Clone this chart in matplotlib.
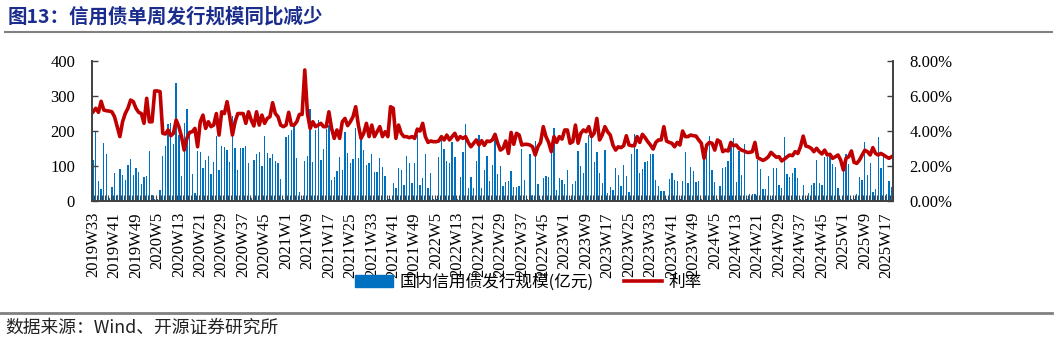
import numpy as np
import matplotlib
matplotlib.use('Agg')
import matplotlib.pyplot as plt
from matplotlib.lines import Line2D
from matplotlib.patches import Patch
from matplotlib.ticker import FuncFormatter

plt.rcParams['font.family'] = ['Liberation Serif', 'Noto Sans CJK SC']
CJK = ['Noto Sans CJK SC', 'DejaVu Sans']

# 周度：2019W33 起，每年按 52 周计
start_year, start_week, n_weeks = 2019, 33, 299
weeks = []
y, w = start_year, start_week
for _ in range(n_weeks):
    weeks.append(f'{y}W{w}')
    w += 1
    if w > 52:
        y, w = y + 1, 1

# 国内信用债发行规模（亿元）
issuance = [
    117, 200, 57, 34, 166, 134, 8, 40, 80, 17,
    92, 74, 60, 104, 120, 73, 94, 82, 50, 69,
    71, 143, 17, 6, 5, 31, 130, 158, 221, 224,
    163, 338, 188, 72, 224, 262, 188, 77, 23, 144,
    139, 94, 118, 128, 76, 112, 186, 89, 156, 155,
    145, 111, 243, 151, 90, 151, 151, 157, 109, 8,
    116, 134, 139, 100, 186, 138, 123, 135, 115, 108,
    63, 6, 184, 188, 203, 213, 123, 26, 6, 114,
    128, 263, 111, 203, 231, 116, 149, 207, 217, 61,
    69, 86, 127, 89, 196, 138, 109, 119, 210, 123,
    173, 145, 104, 110, 133, 84, 84, 124, 97, 71,
    6, 5, 51, 36, 94, 89, 46, 128, 109, 51,
    109, 188, 46, 66, 134, 37, 80, 5, 6, 127,
    174, 149, 113, 108, 168, 127, 7, 68, 139, 219,
    37, 69, 37, 114, 188, 36, 89, 130, 57, 103,
    176, 77, 100, 44, 53, 57, 87, 41, 40, 43,
    150, 60, 6, 134, 17, 171, 48, 6, 65, 71,
    69, 141, 208, 31, 66, 59, 48, 88, 6, 48,
    58, 143, 100, 81, 166, 188, 184, 112, 140, 81,
    52, 145, 23, 39, 31, 94, 74, 44, 103, 72,
    27, 134, 191, 148, 80, 91, 112, 115, 134, 134,
    59, 43, 29, 30, 6, 63, 79, 60, 56, 6,
    58, 140, 51, 97, 87, 54, 58, 6, 124, 141,
    185, 88, 55, 6, 44, 94, 97, 115, 160, 179,
    54, 144, 74, 163, 6, 20, 20, 21, 117, 92,
    35, 33, 72, 6, 94, 94, 46, 37, 182, 77,
    69, 81, 95, 65, 6, 46, 6, 24, 46, 51,
    118, 51, 46, 126, 127, 131, 106, 97, 38, 6,
    93, 134, 106, 6, 6, 19, 70, 60, 170, 74,
    109, 25, 33, 184, 94, 135, 19, 57, 40,
]

# 利率（%）
rate = [
    5.10, 5.30, 5.07, 5.70, 5.20, 5.16, 5.14, 5.10, 4.82, 4.25,
    3.68, 4.53, 5.00, 5.30, 5.77, 5.68, 5.30, 5.07, 5.00, 4.44,
    5.87, 4.53, 4.53, 6.29, 6.29, 6.25, 3.87, 3.83, 4.06, 3.73,
    3.87, 4.63, 4.25, 3.68, 2.91, 3.58, 3.92, 3.96, 4.15, 3.10,
    4.53, 4.91, 4.15, 4.53, 4.25, 4.34, 5.00, 3.77, 5.10, 5.00,
    5.68, 4.82, 3.77, 4.53, 5.00, 5.00, 5.00, 4.44, 5.10, 4.63,
    4.29, 5.10, 4.34, 4.91, 4.44, 4.72, 4.82, 5.62, 5.00, 4.82,
    4.34, 4.25, 4.34, 5.07, 4.34, 4.34, 4.53, 4.95, 4.95, 7.49,
    5.00, 4.15, 4.53, 4.25, 4.34, 4.44, 4.25, 4.25, 5.10, 4.15,
    3.58, 4.06, 3.58, 4.53, 4.72, 4.31, 4.53, 4.82, 5.39, 4.34,
    3.58, 3.87, 4.44, 3.68, 4.34, 3.68, 3.96, 4.25, 3.68, 3.96,
    3.68, 5.39, 5.30, 3.58, 4.34, 3.87, 3.68, 3.68, 3.62, 3.68,
    3.58, 4.11, 4.00, 4.44, 3.68, 3.35, 3.43, 3.39, 3.39, 3.43,
    3.68, 3.49, 3.77, 3.49, 3.68, 3.87, 3.49, 3.68, 3.58, 3.68,
    3.35, 3.10, 3.30, 3.49, 3.20, 3.45, 3.18, 3.43, 3.40, 3.49,
    3.81, 3.30, 2.91, 3.01, 3.43, 2.72, 3.92, 3.24, 3.87, 3.77,
    3.20, 3.24, 3.24, 3.20, 3.10, 2.63, 3.10, 3.35, 4.25, 3.68,
    3.35, 2.82, 3.68, 3.35, 3.68, 3.54, 4.06, 4.06, 3.30, 3.39,
    4.34, 3.30, 3.87, 4.06, 3.96, 4.25, 3.68, 3.87, 4.72, 3.49,
    3.77, 4.25, 3.96, 3.77, 3.20, 2.91, 3.10, 3.05, 3.16, 3.73,
    3.20, 3.16, 3.16, 3.68, 3.35, 3.81, 3.62, 3.39, 3.20, 2.97,
    3.35, 3.49, 3.49, 4.25, 3.43, 3.35, 3.30, 3.10, 3.35, 3.20,
    4.00, 3.68, 3.68, 3.77, 3.73, 3.71, 3.49, 3.30, 2.44, 3.20,
    3.35, 3.30, 2.91, 3.49, 3.39, 2.82, 2.91, 2.86, 3.35, 3.16,
    3.20, 3.01, 2.91, 2.86, 2.78, 2.78, 2.82, 3.35, 2.48, 2.40,
    2.32, 2.40, 2.53, 2.78, 2.63, 2.50, 2.53, 2.29, 2.40, 2.53,
    2.63, 2.59, 2.82, 2.72, 3.10, 3.71, 3.14, 3.10, 3.01, 2.82,
    3.01, 2.82, 2.69, 2.91, 2.63, 2.67, 2.44, 2.53, 2.63, 2.34,
    1.77, 2.44, 2.53, 2.86, 2.21, 2.15, 2.34, 2.63, 2.90, 2.82,
    2.63, 3.05, 2.72, 2.63, 2.72, 2.63, 2.53, 2.44, 2.53,
]

bar_color = '#0070C0'
line_color = '#C00000'
axis_color = '#404040'

fig = plt.figure(figsize=(10.57, 3.43), dpi=100)
ax = fig.add_axes([0.0868, 0.414, 0.758, 0.408])
ax2 = ax.twinx()

x = np.arange(len(weeks))
ax.bar(x, issuance, width=0.5, color=bar_color, linewidth=0)
ax2.plot(x, rate, color=line_color, lw=2.6, solid_joinstyle='round')

ax.set_xlim(-0.5, len(weeks) - 0.5)
ax.set_ylim(0, 400)
ax.set_yticks([0, 100, 200, 300, 400])
ax2.set_ylim(0, 8)
ax2.set_yticks([0, 2, 4, 6, 8])
ax2.yaxis.set_major_formatter(FuncFormatter(lambda v, p: f'{v:.2f}%'))

ax.set_xticks(x[::8])
ax.set_xticklabels(weeks[::8], rotation=90, fontsize=12)
ax.set_xticks(np.arange(-0.5, len(weeks), 1), minor=True)
ax.tick_params(axis='x', which='major', length=0, pad=8)
ax.tick_params(axis='x', which='minor', direction='in', length=4, width=0.8, color=axis_color)
ax.tick_params(axis='y', direction='in', length=4, width=1, color=axis_color, labelsize=12, pad=12)
ax2.tick_params(axis='y', direction='in', length=4, width=1, color=axis_color, labelsize=12, pad=12)

for a in (ax, ax2):
    a.spines['top'].set_visible(False)
    for s in ('left', 'right', 'bottom'):
        a.spines[s].set_color(axis_color)
        a.spines[s].set_linewidth(1.2)

handles = [Patch(color=bar_color), Line2D([], [], color=line_color, lw=2.6)]
fig.legend(handles, ['国内信用债发行规模(亿元)', '利率'], loc='center',
           bbox_to_anchor=(0.5, 0.178), ncol=2, frameon=False,
           prop={'family': CJK, 'size': 12}, handlelength=2.3,
           handletextpad=0.4, columnspacing=1.8)

fig.text(0.007, 0.952, '图13：信用债单周发行规模同比减少', family=CJK,
         fontsize=14, fontweight='bold', color='#1a2d8c', va='center')
fig.add_artist(Line2D([0.005, 0.995], [0.908, 0.908], color='#808080', lw=1.5))
fig.add_artist(Line2D([0.0, 0.995], [0.0875, 0.0875], color='#808080', lw=2))
fig.text(0.005, 0.044, '数据来源：Wind、开源证券研究所', family=CJK,
         fontsize=12.8, color='#222222', va='center')

fig.savefig('out.png', dpi=100)
